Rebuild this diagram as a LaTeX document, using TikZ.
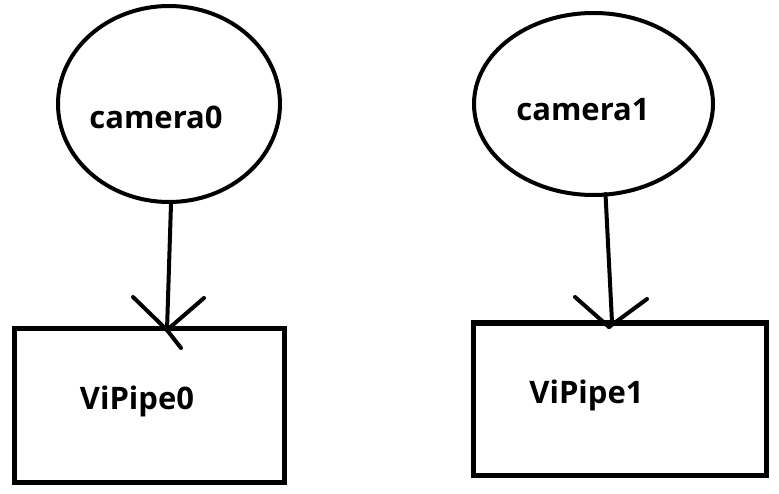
\documentclass[tikz,border=0pt]{standalone}
\usepackage{fontspec}
\setmainfont{Open Sans}
\usetikzlibrary{shapes.geometric}

\tikzset{
  camera/.style={draw, ellipse, line width=4pt, inner sep=0pt},
  pipe/.style={draw, rectangle, line width=5pt, inner sep=0pt},
  label/.style={font=\fontsize{31}{36}\selectfont\bfseries, inner sep=0pt},
  feed/.style={line width=4pt, line cap=round}
}

\begin{document}
\begin{tikzpicture}[x=1pt, y=-1pt]
		\useasboundingbox (0,0) rectangle (779,494);
		
		% cameras
		\node[camera, minimum width=222pt, minimum height=196pt] (cam0) at (169,104) {};
		\node[camera, minimum width=239pt, minimum height=182pt] (cam1) at (593.5,104) {};
		\node[label] (cam0text) at (156,117) {camera0};
		\node[label] (cam1text) at (583,110) {camera1};
		
		% pipes
		\node[pipe, minimum width=270pt, minimum height=154pt] (pipe0) at (149,405) {};
		\node[pipe, minimum width=293pt, minimum height=152pt] (pipe1) at (619.5,399) {};
		\node[label] (pipe0text) at (137,401) {ViPipe0};
		\node[label] (pipe1text) at (586.5,395) {ViPipe1};
		
		% arrows, drawn by hand
		\coordinate (tip0) at (167,330);
		\coordinate (tip1) at (609,327);
		\draw[feed] ([xshift=2pt]cam0.south) -- (tip0);
		\draw[feed] (133,297) -- (tip0) -- (181,348);
		\draw[feed] (204,298) -- (tip0);
		
		\draw[feed] ([xshift=12pt,yshift=3pt]cam1.south) -- ([xshift=3pt,yshift=5pt]tip1);
		\draw[feed] (575,297) -- (tip1);
		\draw[feed] (647,299) -- (tip1);
	\end{tikzpicture}
\end{document}
